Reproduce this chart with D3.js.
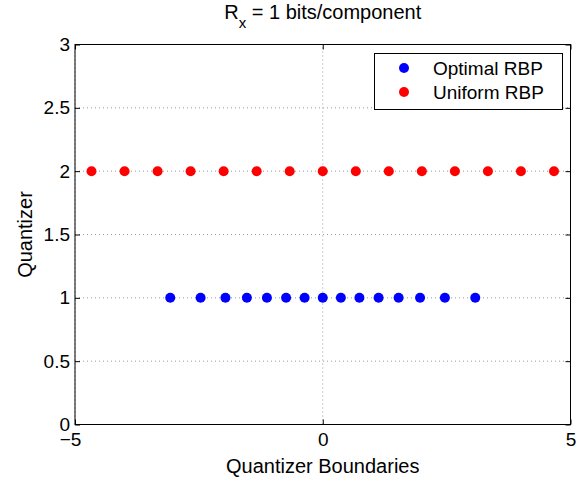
<!DOCTYPE html>
<html>
<head>
<meta charset="utf-8">
<script src="https://cdn.jsdelivr.net/npm/d3@7"></script>
<style>
  body { margin: 0; background: #fff; }
  text { font-family: "Liberation Sans", Arial, sans-serif; }
</style>
</head>
<body>
<div id="chart"></div>
<script>
// quantizer boundaries
const optimalX = [-3.078, -2.465, -1.964, -1.531, -1.127, -0.74, -0.366, 0, 0.366, 0.74, 1.127, 1.531, 1.964, 2.465, 3.078];
const uniformX = [-4.667, -4, -3.333, -2.667, -2, -1.333, -0.667, 0, 0.667, 1.333, 2, 2.667, 3.333, 4, 4.667];
const optimalY = 1, uniformY = 2;
const xTicks = [-5, 0, 5];
const yTicks = [0, 0.5, 1, 1.5, 2, 2.5, 3];
const seriesNames = ["Optimal RBP", "Uniform RBP"];
const seriesColors = ["#0000ff", "#ff0000"];

const width = 587, height = 478;
const margin = { left: 75, right: 16.5, top: 44.5, bottom: 53.5 };

const svg = d3.select("#chart").append("svg")
  .attr("width", width)
  .attr("height", height);

const x = d3.scaleLinear().domain([-5, 5]).range([margin.left, width - margin.right]);
const y = d3.scaleLinear().domain([0, 3]).range([height - margin.bottom, margin.top]);

// grid
const grid = svg.append("g")
  .attr("stroke", "#999")
  .attr("stroke-width", 1)
  .attr("stroke-dasharray", "1,3");
grid.selectAll("line.gx")
  .data(xTicks)
  .join("line")
  .attr("x1", d => x(d)).attr("x2", d => x(d))
  .attr("y1", y(0)).attr("y2", y(3));
grid.selectAll("line.gy")
  .data(yTicks)
  .join("line")
  .attr("class", "gy")
  .attr("x1", x(-5)).attr("x2", x(5))
  .attr("y1", d => y(d)).attr("y2", d => y(d));

// axes with inward ticks
const axisFont = g => g.selectAll("text")
  .attr("font-size", 19).attr("fill", "#000")
  .attr("font-family", "Liberation Sans, Arial, sans-serif");

svg.append("g")
  .attr("transform", `translate(0,${y(0)})`)
  .call(d3.axisBottom(x).tickValues(xTicks).tickSize(-5).tickPadding(8).tickFormat(d => d < 0 ? "\u2212" + Math.abs(d) : d))
  .call(g => g.select(".domain").remove())
  .call(axisFont)
  .call(g => g.selectAll("text").attr("dx", d => d < 0 ? -5 : 0));
svg.append("g")
  .attr("transform", `translate(0,${y(3)})`)
  .call(d3.axisTop(x).tickValues(xTicks).tickSize(-5).tickFormat(""))
  .call(g => g.select(".domain").remove());
svg.append("g")
  .attr("transform", `translate(${x(-5)},0)`)
  .call(d3.axisLeft(y).tickValues(yTicks).tickSize(-5).tickPadding(5).tickFormat(d3.format("")))
  .call(g => g.select(".domain").remove())
  .call(axisFont);
svg.append("g")
  .attr("transform", `translate(${x(5)},0)`)
  .call(d3.axisRight(y).tickValues(yTicks).tickSize(-5).tickFormat(""))
  .call(g => g.select(".domain").remove());

svg.append("rect")
  .attr("x", x(-5)).attr("y", y(3))
  .attr("width", x(5) - x(-5)).attr("height", y(0) - y(3))
  .attr("fill", "none").attr("stroke", "#000").attr("stroke-width", 1);

// points
svg.append("g").selectAll("circle")
  .data(optimalX)
  .join("circle")
  .attr("cx", d => x(d)).attr("cy", y(optimalY))
  .attr("r", 5).attr("fill", seriesColors[0]);
svg.append("g").selectAll("circle")
  .data(uniformX)
  .join("circle")
  .attr("cx", d => x(d)).attr("cy", y(uniformY))
  .attr("r", 5).attr("fill", seriesColors[1]);

// legend
const legend = svg.append("g");
legend.append("rect")
  .attr("x", 374.5).attr("y", 53.5).attr("width", 188).attr("height", 56)
  .attr("fill", "#fff").attr("stroke", "#000");
seriesNames.forEach((name, i) => {
  legend.append("circle")
    .attr("cx", 404).attr("cy", 68 + i * 24).attr("r", 5)
    .attr("fill", seriesColors[i]);
  legend.append("text")
    .attr("x", 433).attr("y", 68 + i * 24).attr("dy", "0.35em")
    .attr("font-size", 19).text(name);
});

// title and labels
const title = svg.append("text")
  .attr("x", x(0)).attr("y", 18.5)
  .attr("text-anchor", "middle").attr("font-size", 20);
title.append("tspan").text("R");
title.append("tspan").attr("dy", 9).attr("font-size", 15).text("x");
title.append("tspan").attr("dy", -9).text(" = 1 bits/component");

svg.append("text")
  .attr("x", x(0)).attr("y", 473)
  .attr("text-anchor", "middle").attr("font-size", 20)
  .text("Quantizer Boundaries");

svg.append("text")
  .attr("transform", `translate(32,${(y(0) + y(3)) / 2}) rotate(-90)`)
  .attr("text-anchor", "middle").attr("font-size", 20)
  .text("Quantizer");
</script>
</body>
</html>
